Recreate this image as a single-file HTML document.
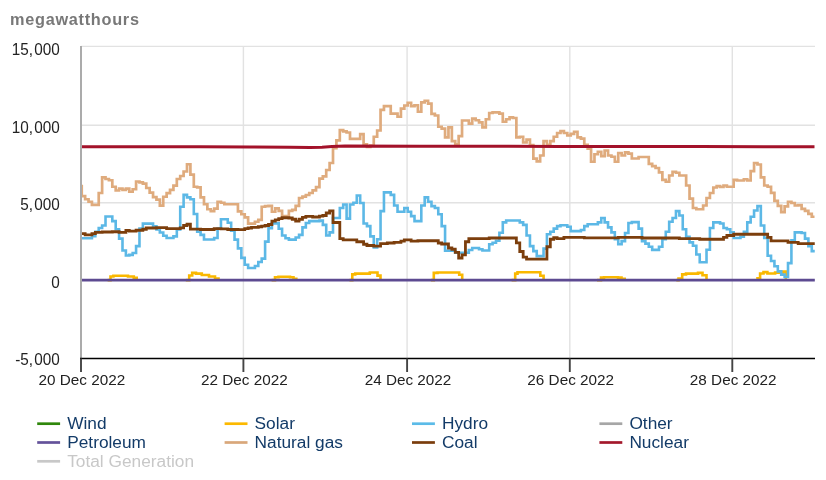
<!DOCTYPE html>
<html><head><meta charset="utf-8"><style>
html,body{margin:0;padding:0;background:#fff;}
body{width:826px;height:480px;overflow:hidden;}
svg{display:block;will-change:transform;}
text{font-family:"Liberation Sans",sans-serif;}
.ax{font-size:15.3px;fill:#222;}
.title{font-size:16.3px;font-weight:bold;fill:#787878;letter-spacing:0.72px;}
.lg{font-size:17.3px;}
</style></head><body>
<svg width="826" height="480" viewBox="0 0 826 480">
<line x1="81" y1="46.4" x2="815" y2="46.4" stroke="#e2e2e2" stroke-width="1.4"/>
<line x1="81" y1="125.2" x2="815" y2="125.2" stroke="#e2e2e2" stroke-width="1.4"/>
<line x1="81" y1="202.8" x2="815" y2="202.8" stroke="#e2e2e2" stroke-width="1.4"/>
<line x1="81" y1="280.1" x2="815" y2="280.1" stroke="#e2e2e2" stroke-width="1.4"/>
<line x1="243.4" y1="46" x2="243.4" y2="358.5" stroke="#e2e2e2" stroke-width="1.4"/>
<line x1="407.1" y1="46" x2="407.1" y2="358.5" stroke="#e2e2e2" stroke-width="1.4"/>
<line x1="569.8" y1="46" x2="569.8" y2="358.5" stroke="#e2e2e2" stroke-width="1.4"/>
<line x1="732.3" y1="46" x2="732.3" y2="358.5" stroke="#e2e2e2" stroke-width="1.4"/>
<path d="M107.60 280.10H110.50V276.50H113.40V275.80H128.00V276.50H133.80V277.90H136.70V280.1M185.80 280.10H189.20V275.50H192.20V272.90H196.00V273.60H201.80V275.00H209.00V276.50H215.00V278.50H218.50V280.1M271.60 280.10H275.00V277.30H278.50V276.80H290.00V277.30H293.50V278.80H296.30V280.1M349.40 280.10H352.30V274.40H355.20V273.60H369.80V272.50H377.50V275.60H380.50V280.1M430.90 280.10H433.80V272.90H437.50V272.50H459.20V274.80H462.20V280.1M511.60 280.10H515.20V273.60H517.50V272.20H540.30V275.80H543.60V280.1M597.00 280.10H601.00V277.60H604.00V277.20H618.00V277.60H621.50V278.80H624.70V280.1M676.30 280.10H678.50V278.50H682.20V274.40H686.00V273.60H698.00V272.90H702.50V275.20H706.50V280.1M756.20 278.40H760.10V273.50H763.50V272.10H767.40V273.50H775.10V272.60H782.90V271.60H785.80V280.1" fill="none" stroke="#fab800" stroke-width="2.6" stroke-linejoin="miter" stroke-linecap="butt"/>
<path d="M81 280.1H814.8" fill="none" stroke="#5d4a91" stroke-width="2.9" stroke-linejoin="miter" stroke-linecap="butt"/>
<path d="M81.00 238.25H91.93V236.10H95.33V231.75H98.72V228.00H102.12V225.50H105.52V216.50H112.31V221.10H115.70V229.25H119.10V238.60H122.49V250.50H125.89V255.50H129.28V254.90H132.68V253.00H136.08V246.10H139.47V228.60H142.87V223.60H153.05V226.30H156.45V229.40H159.84V232.50H163.24V235.70H166.63V238.00H173.43V236.40H176.82V229.40H180.22V206.75H183.61V194.90H187.01V197.40H190.40V199.25H193.80V214.00H197.19V231.75H200.59V234.90H203.99V239.50H214.17V238.00H217.57V228.60H220.96V219.30H227.75V222.70H231.15V230.80H234.54V239.60H237.94V248.40H241.34V257.90H244.73V264.70H248.13V268.00H254.92V266.00H258.31V262.00H261.71V258.60H265.10V241.60H268.50V228.10H271.90V223.40H278.69V228.80H282.08V235.50H285.48V238.30H288.87V239.60H295.66V237.50H299.06V234.90H302.45V227.40H305.85V223.00H309.25V221.10H319.43V220.60H322.83V224.90H326.22V235.50H329.62V232.40H333.01V218.00H339.81V208.00H343.20V204.50H346.60V218.60H349.99V204.50H353.39V202.70H356.78V195.50H360.18V203.00H363.57V223.50H366.97V226.10H370.36V236.40H373.76V247.50H377.16V239.25H380.55V211.10H383.95V192.40H390.74V194.90H394.13V205.50H397.53V211.75H404.32V208.00H407.72V211.75H411.11V216.10H414.51V221.10H421.30V205.50H424.69V197.40H428.09V201.75H431.48V206.10H434.88V208.00H438.27V214.25H441.67V226.10H445.07V250.80H455.25V252.70H468.83V250.00H472.23V248.00H479.02V249.25H482.42V250.50H489.21V244.25H492.60V242.70H496.00V240.80H499.39V232.70H502.79V222.40H506.18V220.50H519.77V222.40H523.16V224.90H526.56V235.50H529.95V246.10H533.35V251.10H536.74V256.10H543.54V248.60H546.93V234.25H550.33V231.75H553.72V228.60H557.12V226.10H560.51V225.25H567.30V226.75H570.70V231.10H580.89V230.00H584.28V226.10H587.68V224.25H597.86V222.40H601.26V218.00H604.65V222.40H608.05V227.40H611.45V232.40H614.84V239.25H618.24V244.25H621.63V241.10H625.03V233.00H628.42V223.00H631.82V222.10H638.61V228.60H642.00V241.10H645.40V243.60H648.80V246.75H652.19V249.90H658.98V246.75H662.38V239.25H665.77V231.75H669.17V221.75H672.56V218.00H675.96V211.10H679.36V215.50H682.75V229.25H686.15V236.75H689.54V242.40H692.94V245.80H696.33V254.50H699.73V262.20H706.52V249.70H709.91V228.00H713.31V222.40H720.10V223.50H723.50V228.00H726.89V229.25H730.29V232.40H733.68V238.00H740.47V236.75H743.87V231.75H747.27V222.40H750.66V216.75H754.06V210.50H757.45V206.10H760.85V225.50H764.24V238.00H767.64V255.80H771.03V261.00H774.43V266.20H777.82V271.40H781.22V274.60H784.62V277.00H788.01V263.10H791.41V240.40H794.80V232.40H801.59V233.00H804.99V238.60H808.38V246.10H811.78V251.10H814.75" fill="none" stroke="#5cb8e6" stroke-width="2.6" stroke-linejoin="miter" stroke-linecap="butt"/>
<path d="M81.00 186.10H81.75V196.10H85.14V199.25H88.54V201.75H91.93V204.90H98.72V193.00H102.12V177.40H105.52V179.00H108.91V180.25H112.31V186.75H115.70V190.50H119.10V188.60H122.49V189.90H125.89V188.60H129.28V191.75H132.68V189.25H136.08V181.50H139.47V182.40H142.87V183.70H146.26V188.00H149.66V192.60H153.05V197.20H156.45V199.70H159.84V205.70H163.24V196.75H166.63V193.20H170.03V189.90H173.43V185.70H176.82V179.00H180.22V176.00H183.61V171.50H187.01V164.25H190.40V174.60H193.80V186.75H197.19V187.40H200.59V197.40H203.99V204.25H207.38V209.25H210.78V211.10H214.17V208.60H217.57V201.75H220.96V202.75H224.36V204.25H237.94V211.40H241.34V214.25H244.73V217.40H248.13V223.60H254.92V221.75H258.31V219.90H261.71V206.75H265.10V206.10H268.50V205.80H271.90V211.75H275.29V208.30H278.69V210.80H282.08V216.10H288.87V210.80H292.27V209.90H295.66V205.80H299.06V198.00H302.45V196.70H305.85V195.00H309.25V193.00H312.64V190.30H316.04V187.20H319.43V178.60H322.83V176.30H326.22V170.00H329.62V163.00H333.01V148.20H336.41V140.30H339.81V130.20H343.20V131.40H346.60V132.50H349.99V138.80H360.18V134.10H363.57V144.25H366.97V147.00H370.36V145.50H373.76V136.75H377.16V130.50H380.55V109.90H383.95V106.10H390.74V113.60H397.53V116.75H400.92V108.60H404.32V105.50H407.72V102.75H411.11V106.10H414.51V105.25H417.90V111.75H421.30V102.40H424.69V100.75H428.09V103.60H431.48V113.90H434.88V115.50H438.27V126.75H441.67V128.60H445.07V137.40H448.46V127.40H451.86V141.10H455.25V144.25H458.65V136.10H462.04V120.50H468.83V123.60H472.23V118.60H475.63V120.25H479.02V122.40H482.42V127.40H485.81V119.25H489.21V113.00H492.60V112.40H499.39V113.60H502.79V121.75H506.18V119.25H509.58V117.40H512.98V118.00H516.37V137.40H519.77V136.75H523.16V142.50H526.56V139.60H529.95V145.20H533.35V158.60H536.74V161.40H540.14V155.50H543.54V141.10H546.93V144.90H550.33V141.10H553.72V136.75H557.12V133.00H560.51V131.10H563.91V133.00H567.30V135.50H570.70V133.90H574.09V131.75H577.49V137.40H580.89V138.60H584.28V144.90H587.68V148.60H591.07V161.75H594.47V154.25H597.86V151.75H601.26V156.10H604.65V150.50H608.05V155.50H611.45V156.75H614.84V161.75H618.24V153.00H621.63V155.50H625.03V152.40H628.42V153.60H631.82V158.50H638.61V157.00H648.80V163.80H652.19V166.10H655.59V168.00H658.98V172.40H662.38V179.90H665.77V181.75H669.17V175.50H672.56V171.75H675.96V172.75H679.36V175.50H686.15V185.50H689.54V198.60H692.94V208.00H696.33V209.25H703.12V205.50H706.52V198.00H709.91V193.00H713.31V187.50H716.71V186.10H720.10V187.00H723.50V185.50H726.89V186.75H733.68V179.90H737.08V180.50H743.87V179.25H747.27V180.50H750.66V171.10H754.06V163.00H757.45V164.50H760.85V177.40H764.24V185.50H767.64V186.75H771.03V192.80H774.43V200.90H777.82V205.90H781.22V212.20H784.62V206.30H788.01V201.75H791.41V203.00H794.80V205.50H798.20V205.10H801.59V208.80H804.99V210.90H808.38V213.80H811.78V216.75H814.50" fill="none" stroke="#dfab7d" stroke-width="2.7" stroke-linejoin="miter" stroke-linecap="butt"/>
<path d="M81.00 233.60H85.14V234.90H91.93V233.60H95.33V232.40H102.12V232.00H112.31V231.75H119.10V232.40H125.89V230.50H129.28V231.10H136.08V230.25H142.87V229.25H146.26V228.00H156.45V227.70H166.63V228.60H180.22V227.80H183.61V225.50H187.01V224.25H190.40V229.10H200.59V229.50H214.17V228.60H220.96V228.80H227.75V229.50H237.94V229.70H244.73V228.60H248.13V228.00H251.52V227.40H258.31V226.75H261.71V226.10H265.10V225.50H268.50V224.50H271.90V221.10H275.29V219.90H278.69V218.60H282.08V217.75H288.87V218.00H292.27V219.25H295.66V221.10H299.06V219.25H302.45V217.40H305.85V216.30H312.64V217.00H319.43V216.10H322.83V215.50H326.22V213.00H329.62V210.80H333.01V222.50H339.81V238.60H343.20V239.90H356.78V241.75H363.57V244.25H366.97V245.50H373.76V246.10H380.55V243.60H387.34V243.00H394.13V242.40H400.92V241.10H404.32V239.90H411.11V241.10H417.90V240.75H438.27V243.00H441.67V244.00H448.46V248.00H451.86V249.25H455.25V252.40H458.65V258.00H462.04V254.90H465.44V241.75H468.83V238.60H489.21V238.00H516.37V242.80H519.77V251.50H523.16V257.20H526.56V259.20H546.93V246.75H550.33V239.25H553.72V237.75H557.12V238.60H563.91V237.40H584.28V237.80H618.24V237.40H642.00V238.00H679.36V238.60H699.73V239.25H723.50V237.40H726.89V235.50H733.68V234.25H767.64V237.40H771.03V240.80H788.01V242.40H798.20V243.60H814.75" fill="none" stroke="#7c3e0c" stroke-width="2.8" stroke-linejoin="miter" stroke-linecap="butt"/>
<path d="M81.00 146.80L150.00 146.70L200.00 146.80L250.00 146.90L290.00 147.20L310.00 147.50L322.00 147.20L332.00 146.40L345.00 146.10L420.00 146.30L560.00 146.40L700.00 146.60L814.50 146.80" fill="none" stroke="#a3122a" stroke-width="3.0" stroke-linejoin="miter" stroke-linecap="butt"/>
<line x1="81" y1="46" x2="81" y2="358.5" stroke="#ababab" stroke-width="2"/>
<line x1="80" y1="358.5" x2="815" y2="358.5" stroke="#000" stroke-width="1.5"/>
<line x1="81.0" y1="358.5" x2="81.0" y2="372" stroke="#444" stroke-width="1.9"/>
<line x1="243.4" y1="358.5" x2="243.4" y2="372" stroke="#444" stroke-width="1.9"/>
<line x1="407.1" y1="358.5" x2="407.1" y2="372" stroke="#444" stroke-width="1.9"/>
<line x1="569.8" y1="358.5" x2="569.8" y2="372" stroke="#444" stroke-width="1.9"/>
<line x1="732.3" y1="358.5" x2="732.3" y2="372" stroke="#444" stroke-width="1.9"/>
<g transform="translate(59.8,54.9) scale(1,1.02)"><text x="0" y="0" text-anchor="end" class="ax">15,<tspan dx="1.2">000</tspan></text></g>
<g transform="translate(59.8,132.5) scale(1,1.02)"><text x="0" y="0" text-anchor="end" class="ax">10,<tspan dx="1.2">000</tspan></text></g>
<g transform="translate(59.8,210.2) scale(1,1.02)"><text x="0" y="0" text-anchor="end" class="ax">5,<tspan dx="1.2">000</tspan></text></g>
<g transform="translate(59.8,287.5) scale(1,1.02)"><text x="0" y="0" text-anchor="end" class="ax">0</text></g>
<g transform="translate(59.8,365.3) scale(1,1.02)"><text x="0" y="0" text-anchor="end" class="ax">-5,<tspan dx="1.2">000</tspan></text></g>
<g transform="translate(81.9,385.0) scale(1,0.99)"><text x="0" y="0" text-anchor="middle" class="ax">20 Dec 2022</text></g>
<g transform="translate(244.3,385.0) scale(1,0.99)"><text x="0" y="0" text-anchor="middle" class="ax">22 Dec 2022</text></g>
<g transform="translate(408.0,385.0) scale(1,0.99)"><text x="0" y="0" text-anchor="middle" class="ax">24 Dec 2022</text></g>
<g transform="translate(570.7,385.0) scale(1,0.99)"><text x="0" y="0" text-anchor="middle" class="ax">26 Dec 2022</text></g>
<g transform="translate(733.2,385.0) scale(1,0.99)"><text x="0" y="0" text-anchor="middle" class="ax">28 Dec 2022</text></g>
<text x="10" y="25" class="title">megawatthours</text>
<line x1="37.2" y1="423.7" x2="60.1" y2="423.7" stroke="#2f870c" stroke-width="2.7"/>
<text x="67.2" y="429.3" class="lg" fill="#133b68">Wind</text>
<line x1="224.6" y1="423.7" x2="247.5" y2="423.7" stroke="#fcb900" stroke-width="2.7"/>
<text x="254.6" y="429.3" class="lg" fill="#133b68">Solar</text>
<line x1="412.0" y1="423.7" x2="434.9" y2="423.7" stroke="#5bbbe8" stroke-width="2.7"/>
<text x="442.0" y="429.3" class="lg" fill="#133b68">Hydro</text>
<line x1="599.4" y1="423.7" x2="622.3" y2="423.7" stroke="#a6a6a6" stroke-width="2.7"/>
<text x="629.4" y="429.3" class="lg" fill="#133b68">Other</text>
<line x1="37.2" y1="442.5" x2="60.1" y2="442.5" stroke="#64529a" stroke-width="2.7"/>
<text x="67.2" y="448.1" class="lg" fill="#133b68">Petroleum</text>
<line x1="224.6" y1="442.5" x2="247.5" y2="442.5" stroke="#d9a77a" stroke-width="2.7"/>
<text x="254.6" y="448.1" class="lg" fill="#133b68">Natural gas</text>
<line x1="412.0" y1="442.5" x2="434.9" y2="442.5" stroke="#7a3d0c" stroke-width="2.7"/>
<text x="442.0" y="448.1" class="lg" fill="#133b68">Coal</text>
<line x1="599.4" y1="442.5" x2="622.3" y2="442.5" stroke="#a3182b" stroke-width="2.7"/>
<text x="629.4" y="448.1" class="lg" fill="#133b68">Nuclear</text>
<line x1="37.2" y1="461.3" x2="60.1" y2="461.3" stroke="#c8c8c8" stroke-width="2.7"/>
<text x="67.2" y="466.9" class="lg" fill="#c8c8c8">Total Generation</text>
</svg>
</body></html>
